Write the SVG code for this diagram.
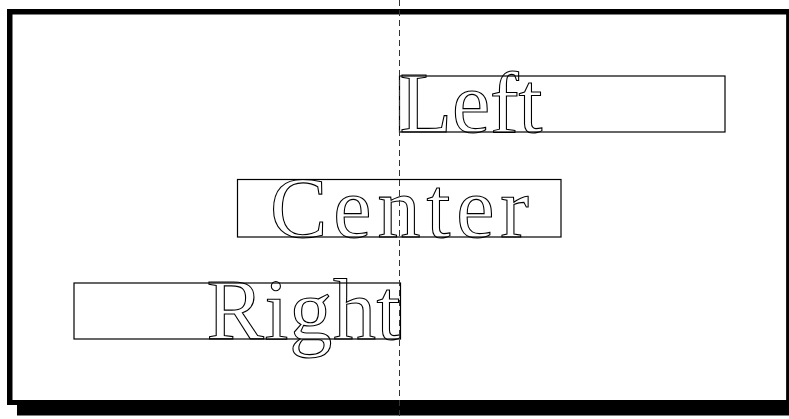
<svg xmlns="http://www.w3.org/2000/svg" width="789" height="419" viewBox="0 0 789 419">
  <style>
    .box { fill: none; stroke: #000; stroke-width: 1.2; }
    .lbl { font-family: "Liberation Serif", "Times New Roman", serif; font-size: 86px; fill: none; stroke: #000; stroke-width: 1.1; }
    .guide { stroke: #333; stroke-width: 1; stroke-dasharray: 6 4; fill: none; }
  </style>
  <rect x="0" y="0" width="789" height="419" fill="#fff"/>
  <g id="frame">
    <rect x="7" y="9" width="790" height="396" fill="#000"/>
    <rect x="12.5" y="14.5" width="774" height="385.5" fill="#fff"/>
    <line x1="787" y1="14" x2="787" y2="400" stroke="#000" stroke-width="1.5"/>
    <rect x="17" y="400" width="780" height="15.5" fill="#000"/>
  </g>
  <g id="node-left">
    <rect class="box" x="399.5" y="76" width="325.5" height="56"/>
    <text class="lbl" x="399.5" y="132" text-anchor="start" textLength="143" lengthAdjust="spacing">Left</text>
  </g>
  <g id="node-center">
    <rect class="box" x="237.5" y="179.5" width="323.5" height="57.5"/>
    <text class="lbl" x="399.5" y="237" text-anchor="middle" textLength="259" lengthAdjust="spacing">Center</text>
  </g>
  <g id="node-right">
    <rect class="box" x="74" y="283" width="326.5" height="56"/>
    <text class="lbl" x="400.5" y="339" text-anchor="end" textLength="194" lengthAdjust="spacing">Right</text>
  </g>
  <g id="connectors">
    <line class="guide" x1="399.5" y1="0" x2="399.5" y2="419"/>
  </g>
</svg>
